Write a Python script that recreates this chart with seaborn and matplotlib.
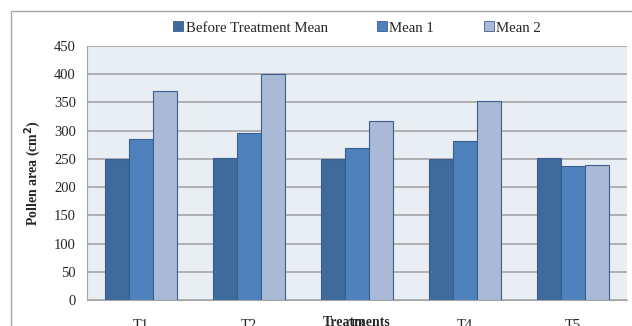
import numpy as np
import pandas as pd
import seaborn as sns
import matplotlib.pyplot as plt
from matplotlib.patches import Rectangle

treatments = ["T1", "T2", "T3", "T4", "T5"]
series_names = ["Before Treatment Mean", "Mean 1", "Mean 2"]
before_mean = [250, 252, 250, 250, 252]
mean_1 = [286, 295, 270, 281, 238]
mean_2 = [371, 400, 318, 352, 239]

colors = ["#3F6A9C", "#4F81BD", "#AAB9D6"]

df = pd.DataFrame({
    "Treatment": treatments * 3,
    "Series": [s for s in series_names for _ in treatments],
    "Value": before_mean + mean_1 + mean_2,
})

sns.set_style("white")
plt.rcParams["font.family"] = ["Liberation Serif", "DejaVu Serif"]

fig = plt.figure(figsize=(6.32, 3.26), dpi=100)
ax = fig.add_axes([87 / 632, 1 - 300 / 326, 540 / 632, 254 / 326])
ax.set_facecolor("#E9EDF4")

sns.barplot(
    data=df, x="Treatment", y="Value", hue="Series",
    palette=colors, saturation=1, width=0.67, ax=ax,
    edgecolor="#3A5F8F", linewidth=0.8, legend=False, zorder=3,
)

ax.set_ylim(0, 450)
ax.set_xlim(-0.5, 4.5)
ax.set_yticks(np.arange(0, 451, 50))
ax.grid(axis="y", color="#A6A6A6", linewidth=1.2, zorder=0)
ax.set_axisbelow(True)

for side in ["top", "right"]:
    ax.spines[side].set_visible(False)
ax.spines["left"].set_color("#A6A6A6")
ax.spines["bottom"].set_color("#A6A6A6")

ax.set_xticks(np.arange(-0.5, 5, 1), minor=False)
ax.set_xticklabels([])
ax.set_xticks(np.arange(5), minor=True)
ax.set_xticklabels(treatments, minor=True, fontsize=10.5)
ax.tick_params(axis="x", which="major", length=5, color="#A6A6A6", direction="out")
ax.tick_params(axis="x", which="minor", length=0, pad=14)
ax.tick_params(axis="y", length=5, color="#A6A6A6", labelsize=10.5, pad=3)

ax.set_xlabel("Treatments", fontsize=10, fontweight="bold", labelpad=-12)
ax.set_ylabel("Pollen area (cm$^\\mathbf{2}$)", fontsize=10, fontweight="bold", labelpad=8)

handles = [
    plt.Line2D([], [], marker="s", linestyle="none", markersize=6.5,
               markerfacecolor=c, markeredgecolor="#3A5F8F", markeredgewidth=0.6)
    for c in colors
]
fig.legend(handles, series_names, loc="center", bbox_to_anchor=(357 / 632, 1 - 28 / 326),
           ncol=3, frameon=False, fontsize=10.7, handlelength=0.7,
           handletextpad=0.15, columnspacing=3.3)

fig.patches.append(Rectangle((11 / 632, -0.1), 1.2, 1 - 11 / 326 + 0.1,
                             transform=fig.transFigure, fill=False,
                             edgecolor="#A6A6A6", linewidth=1.0))

fig.savefig("out.png", dpi=100)
